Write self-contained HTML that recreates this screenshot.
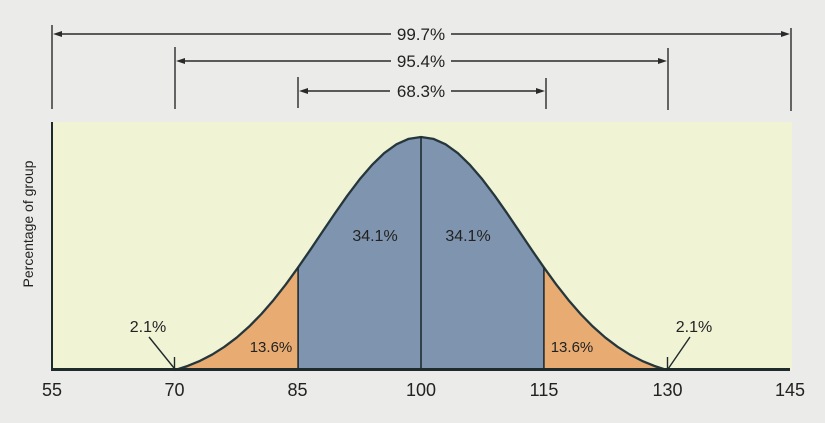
<!DOCTYPE html>
<html>
<head>
<meta charset="utf-8">
<style>
  html,body{margin:0;padding:0;background:#ebebe9;}
  svg{display:block;}
  text{font-family:"Liberation Sans", sans-serif; fill:#222;}
</style>
</head>
<body>
<svg width="825" height="423" viewBox="0 0 825 423" xmlns="http://www.w3.org/2000/svg">
  <rect x="0" y="0" width="825" height="423" fill="#ebebe9"/>
  <!-- yellow plot area -->
  <rect x="52" y="122" width="740" height="248" fill="#f1f3d5"/>

  <!-- orange left -->
  <polygon fill="#e8ab72" points="175.3,370 187.6,365.97 199.9,360.89 212.2,354.56 224.4,346.83 236.7,337.57 249.0,326.67 261.3,314.12 273.6,299.96 285.9,284.33 298.1,267.44 298.1,370"/>
  <!-- blue center -->
  <polygon fill="#7f94ae" points="298.1,370 298.1,267.44 310.4,249.66 322.7,231.40 335.0,213.22 347.3,195.69 359.6,179.43 371.9,165.07 384.1,153.21 396.4,144.35 408.7,138.86 421,137 433.3,138.86 445.6,144.35 457.9,153.21 470.1,165.07 482.4,179.43 494.7,195.69 507.0,213.22 519.3,231.40 531.6,249.66 543.9,267.44 543.9,370"/>
  <!-- orange right -->
  <polygon fill="#e8ab72" points="543.9,370 543.9,267.44 556.1,284.33 568.4,299.96 580.7,314.12 593.0,326.67 605.3,337.57 617.6,346.83 629.8,354.56 642.1,360.89 654.4,365.97 666.7,370"/>

  <!-- curve -->
  <polyline fill="none" stroke="#25363c" stroke-width="2.3" stroke-linejoin="round" points="175.3,370 187.6,365.97 199.9,360.89 212.2,354.56 224.4,346.83 236.7,337.57 249.0,326.67 261.3,314.12 273.6,299.96 285.9,284.33 298.1,267.44 310.4,249.66 322.7,231.40 335.0,213.22 347.3,195.69 359.6,179.43 371.9,165.07 384.1,153.21 396.4,144.35 408.7,138.86 421,137 433.3,138.86 445.6,144.35 457.9,153.21 470.1,165.07 482.4,179.43 494.7,195.69 507.0,213.22 519.3,231.40 531.6,249.66 543.9,267.44 556.1,284.33 568.4,299.96 580.7,314.12 593.0,326.67 605.3,337.57 617.6,346.83 629.8,354.56 642.1,360.89 654.4,365.97 666.7,370"/>

  <!-- vertical dividers -->
  <line x1="298.1" y1="267" x2="298.1" y2="370" stroke="#1f2b30" stroke-width="1.6"/>
  <line x1="421" y1="137" x2="421" y2="370" stroke="#1f2b30" stroke-width="1.6"/>
  <line x1="543.9" y1="267" x2="543.9" y2="370" stroke="#1f2b30" stroke-width="1.6"/>

  <!-- axes -->
  <line x1="52" y1="122" x2="52" y2="371" stroke="#1f2b2b" stroke-width="2"/>
  <line x1="52" y1="369.5" x2="790" y2="369.5" stroke="#1f2b2b" stroke-width="3"/>

  <!-- small ticks at 70, 130 -->
  <line x1="174.5" y1="357" x2="174.5" y2="370" stroke="#1f2b2b" stroke-width="1.4"/>
  <line x1="667.5" y1="357" x2="667.5" y2="370" stroke="#1f2b2b" stroke-width="1.4"/>
  <!-- pointer lines for 2.1% -->
  <line x1="149" y1="337" x2="174" y2="368" stroke="#1f2b2b" stroke-width="1.4"/>
  <line x1="690" y1="337" x2="668" y2="369" stroke="#1f2b2b" stroke-width="1.4"/>

  <!-- area labels -->
  <text x="375" y="241" font-size="16" text-anchor="middle">34.1%</text>
  <text x="468" y="241" font-size="16" text-anchor="middle">34.1%</text>
  <text x="271" y="352" font-size="15" text-anchor="middle">13.6%</text>
  <text x="572" y="352" font-size="15" text-anchor="middle">13.6%</text>
  <text x="148" y="332" font-size="16" text-anchor="middle">2.1%</text>
  <text x="694" y="332" font-size="16" text-anchor="middle">2.1%</text>

  <!-- tick labels -->
  <g font-size="18" text-anchor="middle">
    <text x="52" y="396">55</text>
    <text x="174.5" y="396">70</text>
    <text x="297.5" y="396">85</text>
    <text x="421" y="396">100</text>
    <text x="544" y="396">115</text>
    <text x="667.5" y="396">130</text>
    <text x="790" y="396">145</text>
  </g>

  <!-- y axis label -->
  <text transform="translate(33,224) rotate(-90)" font-size="14" text-anchor="middle">Percentage of group</text>

  <!-- top range arrows -->
  <g stroke="#2a2a2a" stroke-width="1.4" fill="none">
    <!-- 99.7 -->
    <line x1="52" y1="25" x2="52" y2="109"/>
    <line x1="791" y1="28" x2="791" y2="111"/>
    <line x1="60" y1="34" x2="391" y2="34"/>
    <line x1="451" y1="34" x2="783" y2="34"/>
    <!-- 95.4 -->
    <line x1="175" y1="47" x2="175" y2="109"/>
    <line x1="668" y1="48" x2="668" y2="110"/>
    <line x1="183" y1="61" x2="391" y2="61"/>
    <line x1="451" y1="61" x2="660" y2="61"/>
    <!-- 68.3 -->
    <line x1="298" y1="77" x2="298" y2="108"/>
    <line x1="546" y1="78" x2="546" y2="109"/>
    <line x1="306" y1="91" x2="390" y2="91"/>
    <line x1="451" y1="91" x2="538" y2="91"/>
  </g>
  <g fill="#2a2a2a">
    <polygon points="53,34 62,31 62,37"/>
    <polygon points="790,34 781,31 781,37"/>
    <polygon points="176,61 185,58 185,64"/>
    <polygon points="667,61 658,58 658,64"/>
    <polygon points="299,91 308,88 308,94"/>
    <polygon points="545,91 536,88 536,94"/>
  </g>
  <g font-size="17" text-anchor="middle">
    <text x="421" y="40">99.7%</text>
    <text x="421" y="67">95.4%</text>
    <text x="421" y="97">68.3%</text>
  </g>
</svg>
</body>
</html>
